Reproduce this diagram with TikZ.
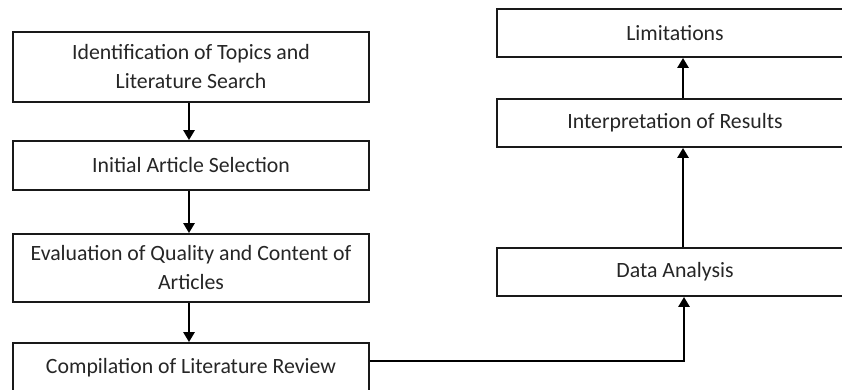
\documentclass[tikz,border=0pt]{standalone}
\usepackage{fontspec}
\setmainfont{Carlito}
\usetikzlibrary{arrows.meta}
\tikzset{
  box/.style={draw=black!90, line width=1.8pt, fill=white, minimum width=356pt, align=center, inner sep=0pt, text=black!85, font=\fontsize{21.8}{29}\selectfont},
  arr/.style={line width=2.6pt, draw=black, -{Triangle[length=10pt,width=11pt]}}
}
\begin{document}
\begin{tikzpicture}[x=1pt,y=-1pt]
\useasboundingbox (0,0) rectangle (842,389);
\clip (0,0) rectangle (842,389);
\fill[white] (0,0) rectangle (842,389);
\node[box, minimum height=70pt] (b1) at (191,67) {Identification of Topics and\\Literature Search};
\node[box, minimum height=49pt] (b2) at (191,165.5) {Initial Article Selection};
\node[box, minimum height=68pt] (b3) at (191,268) {Evaluation of Quality and Content of\\Articles};
\node[box, minimum height=49pt] (b4) at (191,367.5) {Compilation of Literature Review};
\node[box, minimum height=48pt] (lim) at (675,33) {Limitations};
\node[box, minimum height=48pt] (int) at (675,123) {Interpretation of Results};
\node[box, minimum height=48pt] (da) at (675,272) {Data Analysis};
\draw[arr] ([xshift=-2pt]b1.south) -- ([xshift=-2pt]b2.north);
\draw[arr] ([xshift=-2pt]b2.south) -- ([xshift=-2pt]b3.north);
\draw[arr] ([xshift=-2pt]b3.south) -- ([xshift=-2pt]b4.north);
\draw[arr] ([yshift=6.5pt]b4.east) -| ([xshift=9pt]da.south);
\draw[arr] ([xshift=8pt]da.north) -- ([xshift=8pt]int.south);
\draw[arr] ([xshift=8pt]int.north) -- ([xshift=8pt]lim.south);
\end{tikzpicture}
\end{document}
